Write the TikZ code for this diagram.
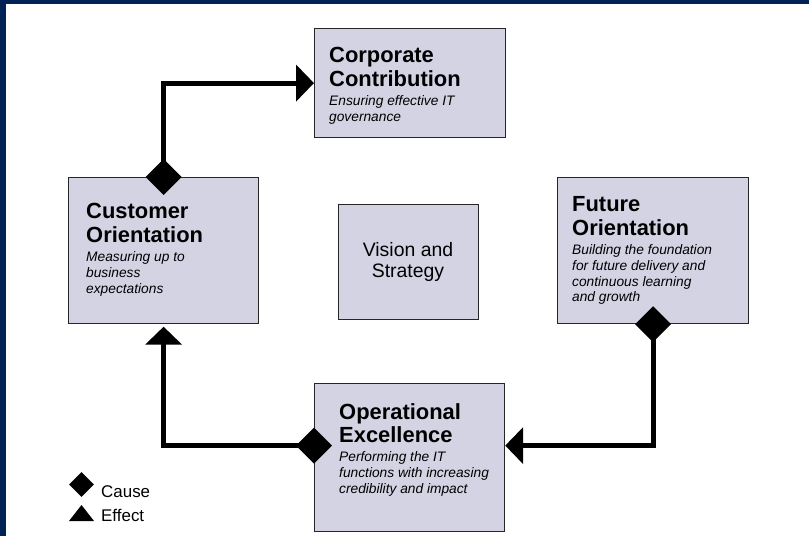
\documentclass[tikz,border=0pt]{standalone}
\usepackage{fontspec}
\setmainfont{Liberation Sans}
\usetikzlibrary{arrows.meta,shapes.geometric}
\definecolor{navy}{RGB}{0,34,84}
\definecolor{boxfill}{RGB}{212,211,228}
\begin{document}
\begin{tikzpicture}[x=1bp,y=-1bp,
  box/.style={draw=black!85, line width=1.2bp, fill=boxfill, anchor=north west, inner sep=0},
  ttl/.style={anchor=north west, inner sep=0, align=left, font=\fontsize{22}{24}\selectfont\bfseries},
  dsc/.style={anchor=north west, inner sep=0, align=left, font=\fontsize{13.8}{16}\selectfont\itshape},
  link/.style={line width=5bp, line cap=butt, line join=miter},
  cause/.style={diamond, fill=black, inner sep=0, minimum width=36bp, minimum height=36bp},
  effect/.style={-{Triangle[length=18bp,width=36bp]}},
  legtext/.style={anchor=base west, inner sep=0, font=\fontsize{17}{20}\selectfont}
]
\useasboundingbox (0,0) rectangle (809,536);
\fill[white] (0,0) rectangle (809,536);
\fill[navy] (0,0) rectangle (809,4);
\fill[navy] (0,0) rectangle (6,536);

% boxes
\node[box, minimum width=191bp, minimum height=109bp] (corp) at (314,28) {};
\node[box, minimum width=190bp, minimum height=146bp] (cust) at (68,177) {};
\node[box, minimum width=191bp, minimum height=146bp] (fut) at (557,177) {};
\node[box, minimum width=190bp, minimum height=148bp] (op) at (314,383) {};
\node[box, minimum width=140bp, minimum height=115bp] (vis) at (338,204) {};

% texts
\node[ttl] (corpT) at (329,47) {Corporate\\Contribution};
\node[dsc] (corpD) at (329,95) {Ensuring effective IT\\governance};

\node[ttl] (custT) at (86,203) {Customer\\Orientation};
\node[dsc] (custD) at (86,251) {Measuring up to\\business\\expectations};

\node[ttl] (futT) at (572,196) {Future\\Orientation};
\node[dsc] (futD) at (572,244) {Building the foundation\\for future delivery and\\continuous learning\\and growth};

\node[ttl] (opT) at (339,403) {Operational\\Excellence};
\node[dsc] (opD) at (339,451) {Performing the IT\\functions with increasing\\credibility and impact};

\node[align=center, inner sep=0, font=\fontsize{19.5}{22}\selectfont] (visT) at (408,262) {Vision and\\Strategy};

% connectors
\draw[link, effect] (cust.north) |- (corp.west);
\draw[link, effect, shorten >=2.5bp] ([yshift=12bp]op.west) -| (cust.south);
\draw[link, effect] (fut.south) |- ([yshift=12bp]op.east);
\node[cause] (d1) at (cust.north) {};
\node[cause] (d2) at ([yshift=12bp]op.west) {};
\node[cause] (d3) at (fut.south) {};

% legend
\node[diamond, fill=black, inner sep=0, minimum width=25bp, minimum height=25bp] (lgC) at (81.5,484.5) {};
\node[legtext] (lgCt) at (101,497) {Cause};
\fill (69,521) -- (94,521) -- (81.5,505) -- cycle;
\node[legtext] (lgEt) at (101,521) {Effect};
\end{tikzpicture}
\end{document}
